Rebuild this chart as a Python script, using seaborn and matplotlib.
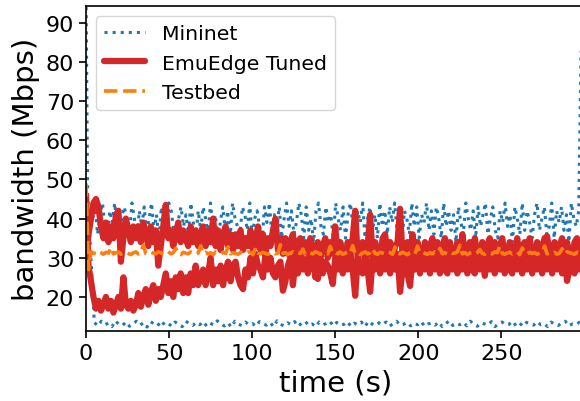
import numpy as np
import pandas as pd
import matplotlib
matplotlib.use("Agg")
import matplotlib.pyplot as plt
import seaborn as sns

# ---------------- data ----------------
series_names = ["Mininet", "EmuEdge Tuned", "Testbed"]

# Mininet, run A: upper band (~1.5 s sampling), jumps up at the right edge
mininet_hi = [
    40, 43, 36, 41, 44, 38, 35, 42, 39, 44, 37, 34, 41, 43, 38, 36, 44, 40, 35, 42,
    38, 43, 36, 40, 44, 37, 41, 35, 43, 39, 36, 44, 42, 37, 34, 40, 43, 38, 41, 36,
    44, 39, 35, 42, 37, 43, 40, 36, 44, 38, 41, 34, 39, 43, 37, 42, 35, 44, 40, 38,
    36, 43, 41, 37, 44, 35, 40, 42, 38, 34, 43, 39, 44, 36, 41, 37, 43, 35, 40, 44,
    38, 42, 36, 39, 44, 41, 35, 43, 37, 40, 34, 42, 44, 38, 36, 43, 39, 41, 35, 44,
    40, 37, 43, 35, 41, 44, 38, 36, 42, 39, 44, 34, 40, 43, 37, 41, 35, 44, 38, 42,
    36, 43, 39, 44, 37, 41, 34, 42, 40, 36, 44, 38, 43, 35, 41, 39, 44, 37, 42, 36,
    43, 40, 35, 44, 38, 42, 37, 41, 34, 43, 39, 36, 44, 40, 37, 42, 35, 43, 38, 41,
    44, 36, 40, 43, 37, 35, 42, 39, 44, 38, 41, 34, 43, 40, 36, 44, 37, 42, 39, 35,
    41, 44, 37, 40, 43, 36, 38, 44, 35, 42, 39, 43, 37, 41, 34, 44, 40, 38, 42, 86]
mininet_hi_t = np.linspace(4, 298, len(mininet_hi))

# Mininet, run B: starts high, then the lower band (~2 s sampling)
mininet_lo = [
    99, 46,
    13.5, 12.6, 13.8, 12.9, 13.3, 12.4, 13.9, 13.0, 12.7, 13.6, 12.5, 13.2, 13.8, 12.8,
    13.4, 12.3, 13.7, 13.1, 12.6, 13.9, 12.9, 13.3, 12.5, 13.6, 13.0, 12.4, 13.8, 13.2,
    12.7, 13.5, 12.9, 13.7, 12.5, 13.3, 12.8, 13.9, 13.1, 12.6, 13.4, 12.3, 13.8, 13.0,
    12.7, 13.6, 12.9, 13.2, 12.5, 13.7, 13.1, 12.8, 13.5, 12.4, 13.9, 13.0, 12.6, 13.4,
    12.9, 13.7, 12.5, 13.3, 13.8, 12.7, 13.1, 12.4, 13.6, 12.9, 13.2, 13.8, 12.6, 13.5,
    12.8, 13.0, 13.7, 12.5, 13.3, 12.9, 13.6, 12.4, 13.8, 13.1, 12.7, 13.4, 12.9, 13.6,
    12.5, 13.2, 13.8, 12.8, 13.0, 13.5, 12.6, 13.3, 12.9, 13.7, 12.5, 13.1, 13.4, 12.8,
    13.6, 12.4, 13.2, 13.9, 12.7, 13.3, 12.9, 13.5, 12.6, 13.8, 13.0, 12.5, 13.4, 13.1,
    12.8, 13.7, 12.4, 13.2, 13.6, 12.9, 13.0, 13.8, 12.6, 13.3, 12.5, 13.5, 13.1, 12.8,
    13.7, 12.9, 13.2, 12.4, 13.6, 13.0, 12.7, 13.4, 13.8, 12.6, 13.1, 12.9, 13.5, 12.5]
mininet_lo_t = np.concatenate([[0, 1], np.linspace(5, 299, len(mininet_lo) - 2)])

# EmuEdge Tuned, run A (upper branch early on), 1.5 s sampling
emu_a = [
    30, 36, 40, 44, 45, 43, 38, 35, 39, 34, 38, 35, 41, 42, 29, 35, 40, 37, 34, 38,
    35, 38, 34, 39, 36, 33, 38, 34, 37, 28, 33, 38, 43.5, 35, 37, 33, 36, 39, 34, 37,
    35, 33, 38, 34, 37, 33, 36, 38, 33, 37, 34, 40, 33, 37, 32, 36, 38, 33, 36, 32,
    36, 33, 37, 32, 35, 33, 37, 32, 34, 38, 32, 36, 31, 35, 33, 37, 40, 32, 35, 31,
    35, 31, 34, 36, 30, 34, 35, 31, 34, 30, 35, 32, 25, 34, 30, 33, 35, 30, 34, 31,
    38, 30, 34, 31, 29, 34, 30, 35, 42, 30, 33, 34, 29, 33, 41, 30, 34, 31, 29, 35,
    36, 30, 34, 29, 33, 34, 42.5, 30, 33, 34, 29, 36, 30, 34, 31, 29, 34, 30, 33, 35,
    30, 34, 29, 33, 35, 30, 34, 31, 29, 34, 30, 36, 31, 29, 34, 30, 35, 31, 29, 34,
    30, 33, 35, 29, 34, 30, 33, 35, 30, 29, 34, 31, 30, 35, 29, 33, 34, 30, 35, 31,
    29, 34, 30, 33, 35, 35.5, 31, 30, 34, 29, 33, 35, 30, 34, 31, 29, 34, 35, 30, 33]
# EmuEdge Tuned, run B (lower branch early on)
emu_b = [
    46, 28, 24, 20, 17, 19, 16.5, 18, 20, 17, 19, 16, 18, 20, 17, 25, 18, 17, 19, 16.5,
    18, 21, 17.5, 20, 22, 18, 21, 23, 19, 22, 20, 23, 26, 21, 24, 20, 25, 22, 26, 21,
    25, 21, 26, 23, 28, 23, 25, 27, 23, 26, 30, 23, 27, 24, 28, 23, 27, 29, 24, 28,
    29, 25, 23, 22, 27, 25, 30, 26, 31, 28, 27, 25, 31, 27, 30, 26, 25, 28, 29, 21.6,
    24, 28, 30, 23, 29, 26, 30, 27, 31, 26, 30, 27, 31, 24.6, 30, 26, 29, 28, 26, 23.3,
    30, 27, 31, 26, 30, 27, 31, 27, 20.3, 30, 27, 26, 31, 27, 21.3, 30, 27, 31, 26, 30,
    27, 31, 26, 30, 27, 31, 21.3, 27, 30, 26, 22.8, 30, 27, 31, 26, 30, 27, 31, 26, 30,
    27, 31, 26, 30, 27, 26, 31, 27, 30, 26, 31, 27, 30, 26, 31, 27, 26, 30, 27, 31,
    25.4, 30, 27, 31, 26, 30, 27, 31, 26, 30, 27, 26, 31, 27, 30, 26, 31, 27, 30, 26,
    31, 27, 30, 26, 31, 27, 30, 26, 31, 27, 30, 26, 31, 24.1, 27, 30, 26, 31, 27, 30]
emu_t = np.linspace(0, 298.5, len(emu_a))

# Testbed, 1.5 s sampling
testbed = [
    49, 27, 31.5, 31.2, 31.0, 31.6, 31.3, 30.9, 31.4, 31.2, 32.6, 31.0, 31.3, 31.5, 30.9, 31.2, 31.4, 31.1, 30.8, 31.3,
    31.5, 31.0, 31.2, 33.2, 31.1, 30.9, 31.4, 31.2, 31.0, 31.5, 31.3, 30.9, 31.2, 31.6, 31.0, 31.3, 32.4, 31.1, 30.8, 31.4,
    31.2, 31.0, 31.5, 31.3, 30.9, 31.2, 33.0, 31.1, 31.4, 31.0, 31.3, 30.8, 31.5, 31.2, 31.0, 31.4, 31.1, 32.8, 31.0, 31.3,
    31.1, 30.9, 31.4, 31.2, 31.0, 31.5, 31.3, 30.8, 32.5, 31.2, 31.0, 31.4, 31.1, 30.9, 31.3, 31.5, 31.0, 31.2, 33.3, 31.1,
    31.3, 30.9, 31.2, 31.5, 31.0, 31.3, 31.1, 32.2, 30.8, 31.4, 31.2, 31.0, 31.5, 31.3, 30.9, 31.2, 31.4, 31.0, 32.9, 31.1,
    31.3, 31.0, 31.5, 30.9, 31.2, 31.4, 31.1, 33.1, 31.0, 31.3, 30.8, 31.2, 31.5, 31.0, 31.3, 32.3, 31.1, 30.9, 31.4, 31.2,
    31.0, 31.5, 31.3, 30.9, 32.7, 31.2, 31.0, 31.4, 31.1, 30.8, 31.3, 31.5, 31.0, 33.0, 31.2, 31.4, 31.1, 30.9, 31.3, 31.0,
    31.5, 31.2, 32.4, 31.0, 31.3, 30.9, 31.4, 31.1, 31.2, 31.5, 33.2, 31.0, 31.3, 30.8, 31.2, 31.4, 31.0, 31.3, 32.1, 31.1,
    30.9, 31.4, 31.2, 31.0, 31.5, 31.3, 32.9, 31.1, 30.9, 31.2, 31.4, 31.0, 31.3, 31.5, 30.8, 32.5, 31.2, 31.0, 31.4, 31.1,
    31.3, 30.9, 31.2, 31.5, 33.0, 31.0, 31.3, 31.1, 31.4, 30.9, 31.2, 32.3, 31.0, 31.5, 31.3, 31.1, 30.9, 31.4, 31.2, 31.0]
testbed_t = np.linspace(0, 298.5, len(testbed))

x_ticks = [0, 50, 100, 150, 200, 250]
y_ticks = [20, 30, 40, 50, 60, 70, 80, 90]

# ---------------- table ----------------
frames = []
for name, run, t, v in [
    ("Mininet", "a", mininet_hi_t, mininet_hi),
    ("Mininet", "b", mininet_lo_t, mininet_lo),
    ("EmuEdge Tuned", "a", emu_t, emu_a),
    ("EmuEdge Tuned", "b", emu_t, emu_b),
    ("Testbed", "a", testbed_t, testbed),
]:
    frames.append(pd.DataFrame({"time": t, "bw": v, "series": name, "run": run}))
df = pd.concat(frames, ignore_index=True)

# ---------------- plot ----------------
sns.set_theme(style="ticks")
plt.rcParams["font.family"] = ["DejaVu Sans"]
for k in ["text.color", "axes.labelcolor", "xtick.color", "ytick.color", "axes.edgecolor"]:
    plt.rcParams[k] = "black"

fig = plt.figure(figsize=(5.8, 4.02), dpi=100)
ax = fig.add_axes([86 / 580, 1 - 332 / 402, (584.5 - 86) / 580, (332 - 7) / 402])

palette = {"Mininet": "#1f77b4", "EmuEdge Tuned": "#d62728", "Testbed": "#ff7f0e"}
dashes = {"Mininet": (1, 1.65), "EmuEdge Tuned": "", "Testbed": (3.7, 1.6)}
sizes = {"Mininet": 2.2, "EmuEdge Tuned": 4.5, "Testbed": 2.6}

sns.lineplot(data=df, x="time", y="bw", hue="series", style="series", size="series",
             hue_order=series_names, style_order=series_names, size_order=series_names,
             palette=palette, dashes=dashes, sizes=sizes, units="run", estimator=None,
             ax=ax)

ax.set_xlim(0, 300)
ax.set_ylim(11.3, 94.3)
ax.set_xticks(x_ticks)
ax.set_yticks(y_ticks)
ax.tick_params(labelsize=16, length=5, width=1.2, colors="black")
ax.set_xlabel("time (s)", fontsize=21)
ax.set_ylabel("bandwidth (Mbps)", fontsize=21)
for s in ax.spines.values():
    s.set_linewidth(1.2)

sns.move_legend(ax, "upper left", title=None, frameon=True, fontsize=14.7,
                handlelength=2.0, bbox_to_anchor=(0, 1), borderaxespad=0.5)
leg = ax.get_legend()
leg.get_frame().set_edgecolor("0.8")

fig.savefig("out.png", dpi=100)
